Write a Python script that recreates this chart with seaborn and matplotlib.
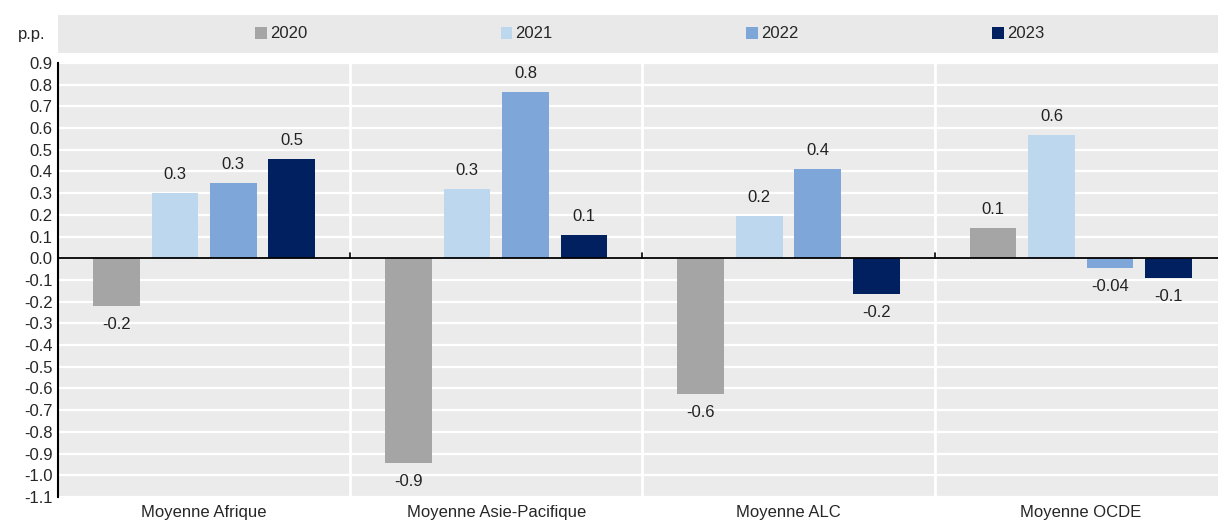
import pandas as pd
import numpy as np
import seaborn as sns
from matplotlib import pyplot as plt

regions = ['Moyenne Afrique', 'Moyenne Asie-Pacifique', 'Moyenne ALC', 'Moyenne OCDE']
years = ['2020', '2021', '2022', '2023']
# valeurs, une liste par annee
v2020 = [-0.22, -0.945, -0.627, 0.14]
v2021 = [0.30, 0.318, 0.194, 0.567]
v2022 = [0.345, 0.765, 0.41, -0.046]
v2023 = [0.456, 0.106, -0.164, -0.092]
# etiquettes affichees au-dessus / au-dessous des barres
lab2020 = ['-0.2', '-0.9', '-0.6', '0.1']
lab2021 = ['0.3', '0.3', '0.2', '0.6']
lab2022 = ['0.3', '0.8', '0.4', '-0.04']
lab2023 = ['0.5', '0.1', '-0.2', '-0.1']
yticks = np.round(np.arange(-1.1, 0.91, 0.1), 1)

couleurs = ['#a5a5a5', '#bdd7ee', '#7ea6d9', '#002060']

df = pd.DataFrame({
    'region': regions * 4,
    'annee': [y for y in years for _ in regions],
    'valeur': v2020 + v2021 + v2022 + v2023,
})

sns.set_style('white')
plt.rcParams['font.family'] = ['Liberation Sans Narrow', 'Liberation Sans', 'DejaVu Sans']

fig = plt.figure(figsize=(12.18, 5.24), dpi=100)
W, H = 1218, 524
ax = fig.add_axes([58 / W, 1 - 497 / H, 1 - 58 / W, (497 - 63) / H])
ax.set_facecolor('#ebebeb')

sns.barplot(data=df, x='region', y='valeur', hue='annee', palette=couleurs,
            saturation=1, gap=0.2, width=0.8, linewidth=0, ax=ax,
            legend=True, zorder=3)

ax.set_ylim(-1.1, 0.9)
ax.set_xlim(-0.5, 3.47)
ax.set_yticks(yticks)
ax.set_yticklabels([f'{t:.1f}' if t != 0 else '0.0' for t in yticks], fontsize=12)
ax.yaxis.grid(True, color='white', lw=1.6, zorder=0)
ax.set_axisbelow(True)
for b in np.arange(0.5, len(regions) - 0.5, 1):
    ax.axvline(b, color='white', lw=2, zorder=1)
    ax.plot([b, b], [0, 0.025], color='black', lw=1.2, zorder=4)
ax.axhline(0, color='black', lw=1.3, zorder=4)

for s in ['top', 'right', 'bottom']:
    ax.spines[s].set_visible(False)
ax.spines['left'].set_color('black')
ax.spines['left'].set_linewidth(1.5)
ax.tick_params(axis='y', direction='in', length=5, width=1.2, color='black', pad=4)
ax.tick_params(axis='x', length=0, pad=6, labelsize=12)
ax.set_xlabel('')
ax.set_ylabel('')

etiquettes = [lab2020, lab2021, lab2022, lab2023]
for cont, labs in zip(ax.containers, etiquettes):
    for bar, lab in zip(cont, labs):
        h = bar.get_height()
        x = bar.get_x() + bar.get_width() / 2
        if h >= 0:
            ax.annotate(lab, (x, h), xytext=(0, 8), textcoords='offset points',
                        ha='center', va='bottom', fontsize=12, color='#222222')
        else:
            ax.annotate(lab, (x, h), xytext=(0, -8), textcoords='offset points',
                        ha='center', va='top', fontsize=12, color='#222222')

# bandeau de legende
handles, labels = ax.get_legend_handles_labels()
ax.get_legend().remove()
band = fig.add_axes([58 / W, 1 - 53 / H, 1 - 58 / W, 38 / H])
band.set_facecolor('#e9e9e9')
band.set_xticks([])
band.set_yticks([])
for s in band.spines.values():
    s.set_visible(False)
band.legend(handles, labels, loc='center', ncol=4, frameon=False, fontsize=12,
            handlelength=0.7, handleheight=0.7, handletextpad=0.2,
            columnspacing=11.6, bbox_to_anchor=(0.51, 0.5))
fig.text(18 / W, 1 - 35 / H, 'p.p.', fontsize=12, va='center', ha='left')

plt.savefig('out.png', dpi=100)
